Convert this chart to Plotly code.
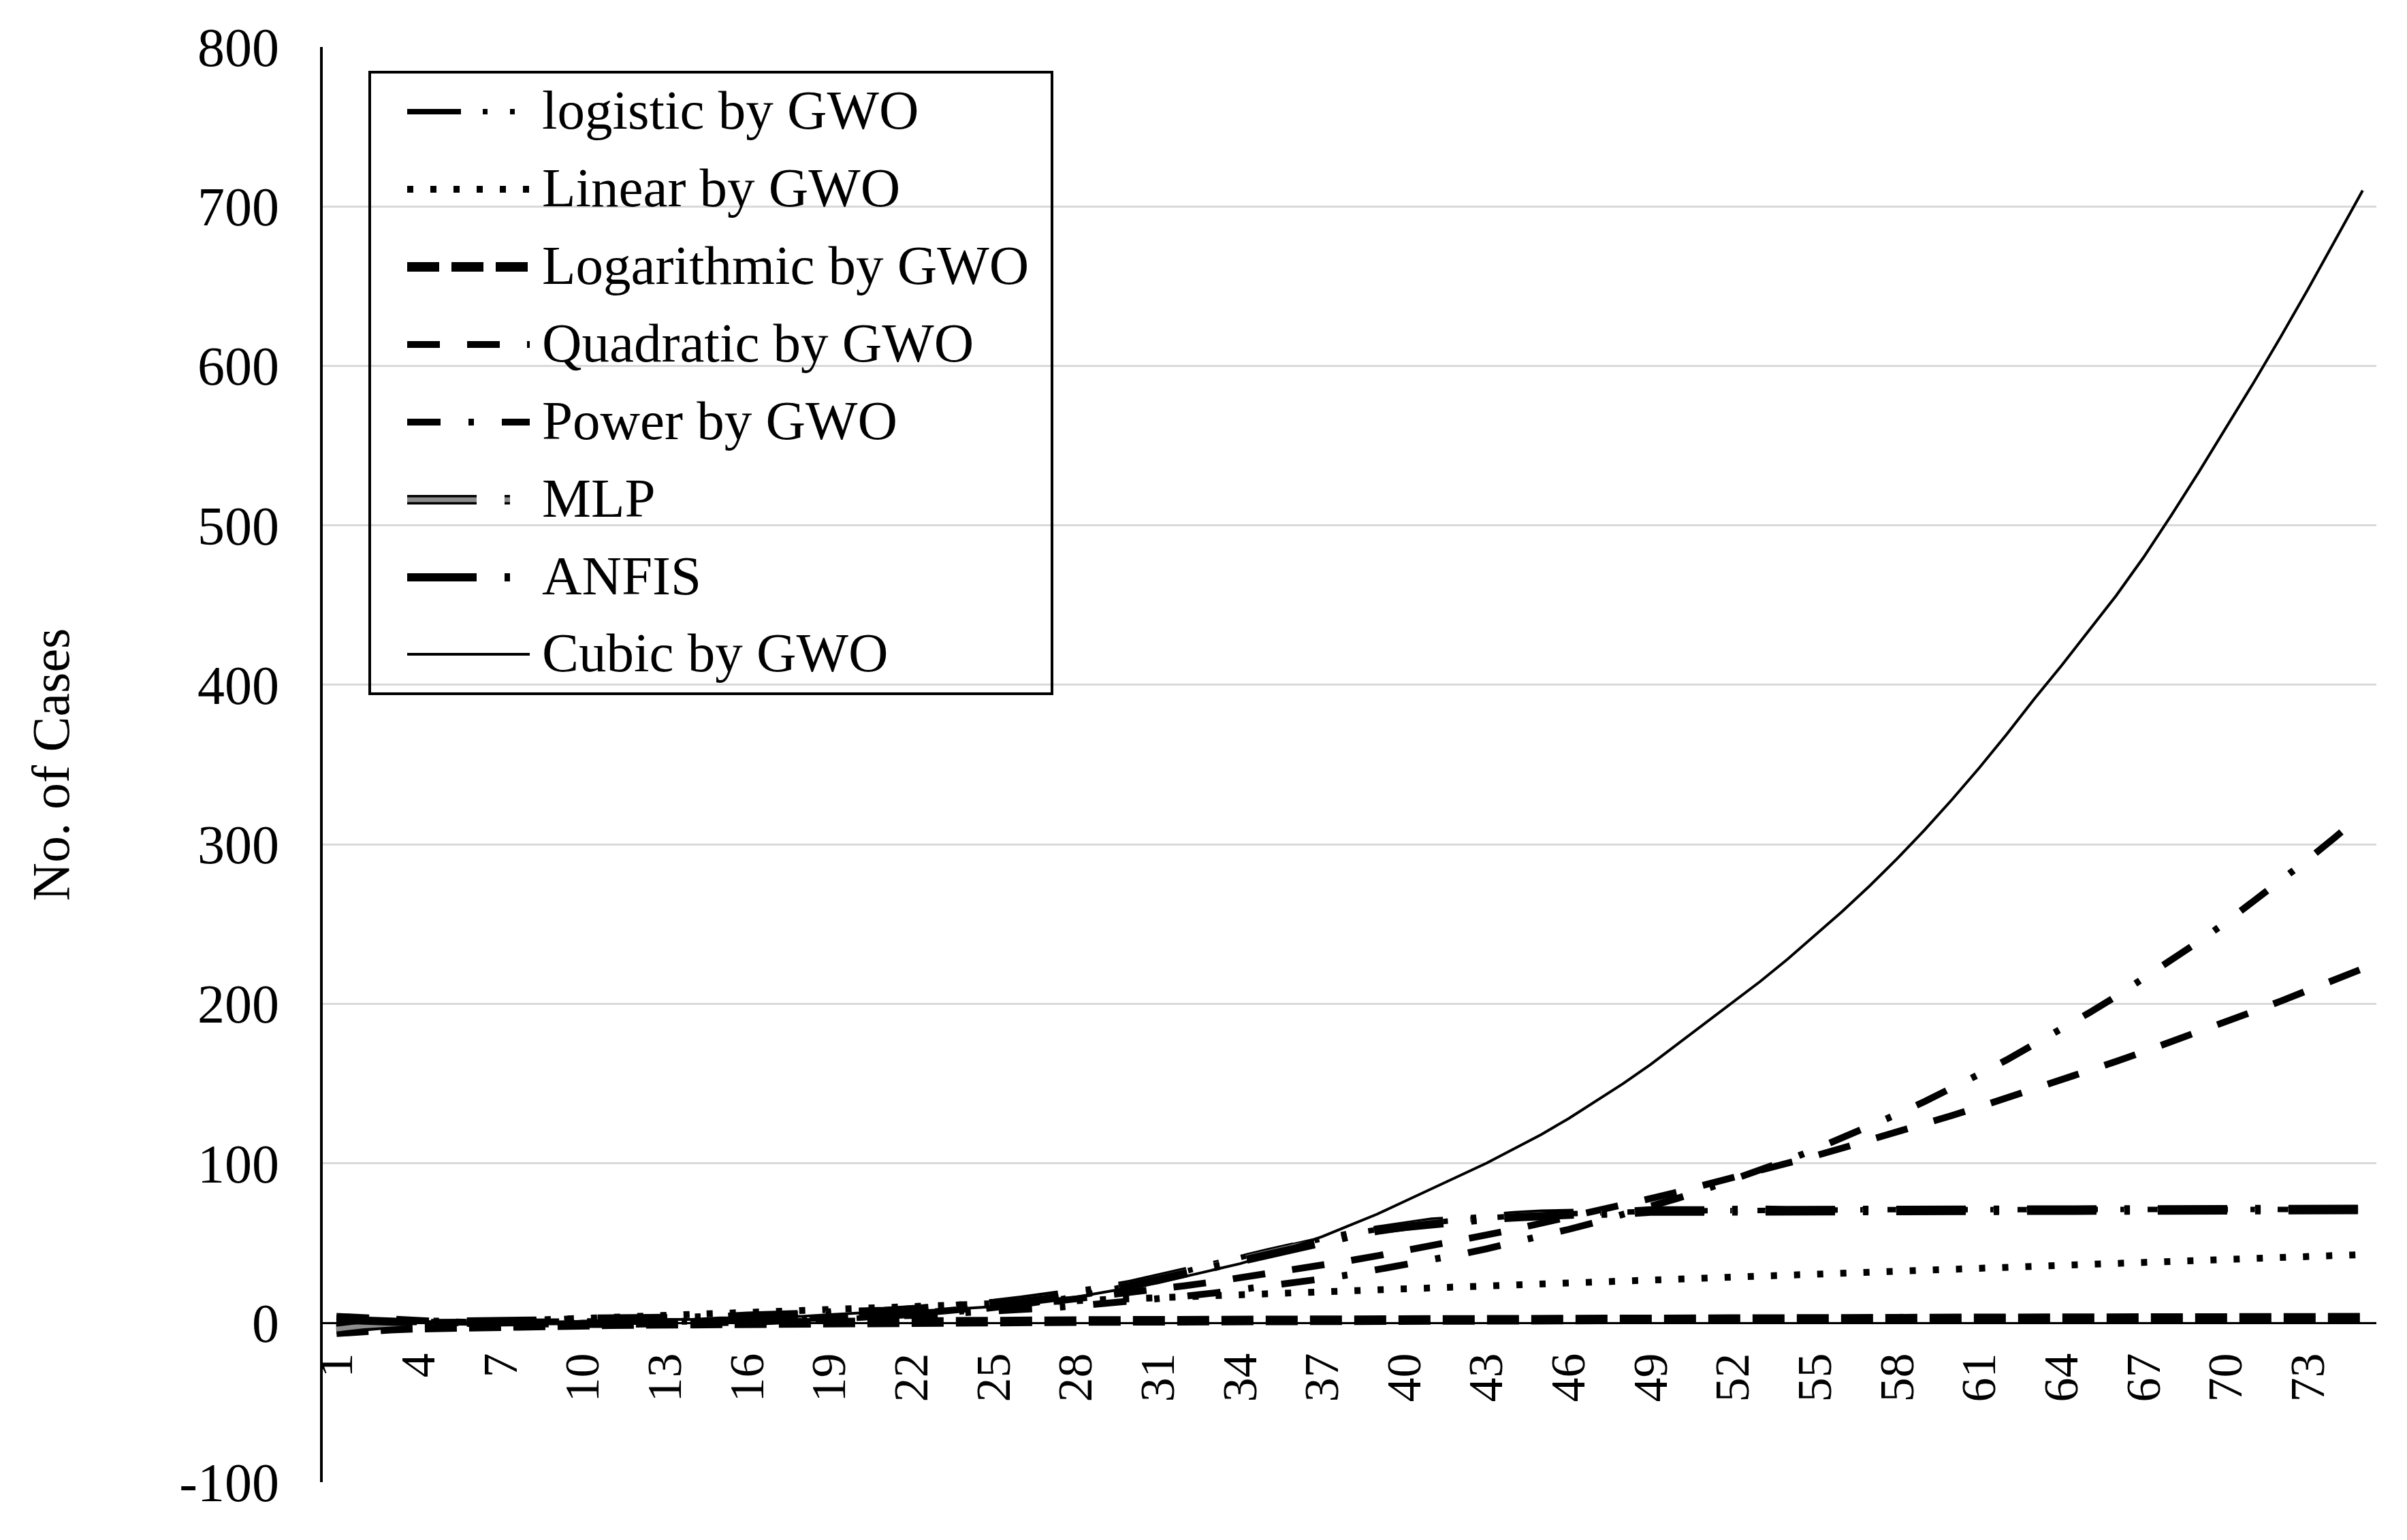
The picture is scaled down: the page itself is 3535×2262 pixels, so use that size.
import plotly.graph_objects as go

# ---------------- data ----------------
days = list(range(1, 76))
x_tick_vals = [1, 4, 7, 10, 13, 16, 19, 22, 25, 28, 31, 34, 37, 40, 43, 46, 49, 52, 55, 58, 61, 64, 67, 70, 73]
x_tick_text = ["1", "4", "7", "10", "13", "16", "19", "22", "25", "28", "31", "34", "37", "40", "43",
               "46", "49", "52", "55", "58", "61", "64", "67", "70", "73"]
y_tick_vals = [-100, 0, 100, 200, 300, 400, 500, 600, 700, 800]
y_tick_text = ["-100", "0", "100", "200", "300", "400", "500", "600", "700", "800"]

series_names = ["logistic by GWO", "Linear by GWO", "Logarithmic by GWO", "Quadratic by GWO",
                "Power by GWO", "MLP", "ANFIS", "Cubic by GWO"]

logistic_gwo = [0.0, 0.0, 0.0, 0.1, 0.1, 0.1, 0.1, 0.1, 0.2, 0.2,
                0.3, 0.4, 0.5, 0.6, 0.8, 1.1, 1.3, 1.7, 2.2, 2.8,
                3.5, 4.5, 5.6, 7.1, 8.8, 11.0, 13.5, 16.4, 19.8, 23.6,
                27.7, 32.0, 36.4, 40.8, 45.0, 49.0, 52.6, 55.8, 58.6, 60.9,
                62.9, 64.5, 65.9, 66.9, 67.8, 68.5, 69.0, 69.4, 69.8, 70.1,
                70.3, 70.4, 70.6, 70.7, 70.7, 70.8, 70.8, 70.9, 70.9, 70.9,
                70.9, 70.9, 71.0, 71.0, 71.0, 71.0, 71.0, 71.0, 71.0, 71.0,
                71.0, 71.0, 71.0, 71.0, 71.0]

linear_gwo = [-2.8, -2.2, -1.6, -0.9, -0.3, 0.3, 0.9, 1.5, 2.1, 2.8,
              3.4, 4.0, 4.6, 5.2, 5.8, 6.4, 7.1, 7.7, 8.3, 8.9,
              9.5, 10.1, 10.7, 11.4, 12.0, 12.6, 13.2, 13.8, 14.4, 15.1,
              15.7, 16.3, 16.9, 17.5, 18.1, 18.7, 19.4, 20.0, 20.6, 21.2,
              21.8, 22.4, 23.0, 23.7, 24.3, 24.9, 25.5, 26.1, 26.7, 27.4,
              28.0, 28.6, 29.2, 29.8, 30.4, 31.0, 31.7, 32.3, 32.9, 33.5,
              34.1, 34.7, 35.3, 36.0, 36.6, 37.2, 37.8, 38.4, 39.0, 39.7,
              40.3, 40.9, 41.5, 42.1, 42.7]

logarithmic_gwo = [-6.0, -4.5, -3.7, -3.1, -2.6, -2.2, -1.9, -1.6, -1.4, -1.2,
                   -1.0, -0.8, -0.6, -0.5, -0.3, -0.2, -0.1, 0.1, 0.2, 0.3,
                   0.4, 0.5, 0.6, 0.7, 0.8, 0.8, 0.9, 1.0, 1.1, 1.1,
                   1.2, 1.3, 1.3, 1.4, 1.5, 1.5, 1.6, 1.6, 1.7, 1.7,
                   1.8, 1.8, 1.9, 1.9, 2.0, 2.0, 2.1, 2.1, 2.2, 2.2,
                   2.3, 2.3, 2.3, 2.4, 2.4, 2.5, 2.5, 2.5, 2.6, 2.6,
                   2.6, 2.7, 2.7, 2.7, 2.8, 2.8, 2.8, 2.9, 2.9, 2.9,
                   3.0, 3.0, 3.0, 3.0, 3.1]

quadratic_gwo = [4.0, 3.0, 2.1, 1.3, 0.6, 0.1, -0.4, -0.8, -1.0, -1.2,
                 -1.2, -1.1, -0.9, -0.6, -0.2, 0.3, 0.9, 1.6, 2.5, 3.4,
                 4.5, 5.6, 6.9, 8.3, 9.8, 11.3, 13.0, 14.9, 16.8, 18.8,
                 20.9, 23.2, 25.5, 28.0, 30.5, 33.2, 36.0, 38.9, 41.9, 45.0,
                 48.2, 51.5, 55.0, 58.5, 62.2, 65.9, 69.8, 73.8, 77.9, 82.0,
                 86.3, 90.8, 95.3, 99.9, 104.6, 109.5, 114.4, 119.5, 124.6, 129.9,
                 135.3, 140.8, 146.4, 152.1, 157.9, 163.8, 169.9, 176.0, 182.2, 188.6,
                 195.1, 201.6, 208.3, 215.1, 222.0]

power_gwo = [0.0, 0.0, 0.0, 0.0, 0.0, 0.0, 0.1, 0.1, 0.2, 0.3,
             0.4, 0.6, 0.7, 0.9, 1.2, 1.5, 1.8, 2.3, 2.7, 3.3,
             3.9, 4.5, 5.3, 6.1, 7.1, 8.1, 9.2, 10.5, 11.8, 13.3,
             14.9, 16.6, 18.5, 20.5, 22.7, 25.0, 27.5, 30.1, 33.0, 36.0,
             39.2, 42.7, 46.3, 50.1, 54.2, 58.5, 63.0, 67.8, 72.8, 78.1,
             83.7, 89.5, 95.6, 102.0, 108.7, 115.8, 123.1, 130.7, 138.7, 147.0,
             155.8, 164.8, 174.2, 184.0, 194.2, 204.7, 215.7, 227.1, 238.8, 251.0,
             263.8, 276.9, 290.5, 304.5, 319.0]

mlp = [-4, -2, -1, 0, 0, 1, 1, 1, 1, 2,
       2, 2, 3, 3, 3, 4, 4, 5, 6, 6,
       7, 8, 9, 10, 12, 14, 16, 18, 21, 24,
       28, 32, 36, 40, 44, 48, 52, 55, 58, 61,
       63, 64, 66, 67, 68, 68, 69, 69, 70, 70,
       70, 70, 70.5, 70.5, 70, 70, 70.5, 70.5, 70, 70,
       70.5, 70.5, 70.5, 70, 70, 70.5, 70.5, 70.5, 70.5, 70,
       70.5, 70.5, 70.5, 71, 71]

anfis = [2, 1, 1, 0, 0, 0, 1, 1, 1, 1,
         2, 2, 2, 3, 3, 4, 4, 5, 5, 6,
         7, 8, 9, 10, 11, 13, 15, 17, 20, 23,
         27, 31, 35, 39, 43, 47, 51, 55, 58, 60,
         62, 64, 65, 66, 67, 67, 68, 69, 70, 70,
         70.5, 70.5, 71, 70.5, 70.5, 70, 70.5, 71, 71, 70.5,
         70.5, 71, 71, 70.5, 70.5, 71, 71, 71, 70.5, 70.5,
         71, 71, 71, 71, 71]

cubic_gwo = [3, 2, 1, 1, 0, 0, 0, 0, 0, 1,
             1, 1, 2, 2, 3, 3, 4, 4, 5, 6,
             6, 7, 8, 9, 10, 12, 14, 16, 19, 22,
             25, 29, 33, 37, 42, 48, 54, 61, 68, 76,
             84, 92, 100, 109, 118, 128, 139, 150, 162, 175,
             188, 201, 214, 228, 243, 258, 274, 291, 309, 328,
             348, 369, 391, 412, 434, 456, 480, 506, 533, 561,
             589, 618, 648, 679, 710]

all_series = [logistic_gwo, linear_gwo, logarithmic_gwo, quadratic_gwo,
              power_gwo, mlp, anfis, cubic_gwo]

# ---------------- styles ----------------
FONT = "Liberation Serif, Times New Roman, serif"
styles = [
    [dict(color="black", width=8, dash="79px,32px,7px,33px,7px,33px")],
    [dict(color="black", width=10, dash="9px,25px")],
    [dict(color="black", width=14, dash="47px,18px")],
    [dict(color="black", width=10, dash="48px,40px")],
    [dict(color="black", width=10, dash="49px,41px,8px,41px")],
    [dict(color="black", width=14, dash="102px,41px,8px,41px"),
     dict(color="#8c8c8c", width=7, dash="102px,41px,8px,41px")],
    [dict(color="black", width=12, dash="102px,41px,8px,41px")],
    [dict(color="black", width=4, dash="solid")],
]

W, H = 3535, 2262
# page body adds ~8px offset, compensate in the margins
ML, MR, MT, MB = 466, 53, 61, 93

# reference-pixel helpers (plot area: x 474..3490, y 72..2180)
RX0, RW = 474, 3016
RY1, RH = 2180, 2108


def pxx(p):
    return (p - RX0) / RW


def pxy(p):
    return (RY1 - p) / RH


fig = go.Figure()
for name, vals, sty in zip(series_names, all_series, styles):
    for k, ln in enumerate(sty):
        fig.add_trace(go.Scatter(x=days, y=vals, mode="lines", name=name,
                                 line=ln, showlegend=False))

# ---------------- custom legend (long line samples like the original) ----------------
shapes = []
annotations = []
legend_rows = [167, 281, 395, 509, 623, 737, 851, 964]
for name, sty, ry in zip(series_names, styles, legend_rows):
    for ln in sty:
        shapes.append(dict(type="line", xref="paper", yref="paper",
                           x0=pxx(598), x1=pxx(778), y0=pxy(ry), y1=pxy(ry), line=ln))
    annotations.append(dict(text=name, xref="paper", yref="paper", x=pxx(794), y=pxy(ry - 2),
                            xanchor="left", yanchor="middle", showarrow=False,
                            font=dict(family=FONT, size=81, color="black")))
shapes.append(dict(type="rect", xref="paper", yref="paper",
                   x0=pxx(543), x1=pxx(1545), y0=pxy(1022), y1=pxy(109),
                   line=dict(color="black", width=4), fillcolor="rgba(0,0,0,0)"))

fig.update_layout(
    width=W, height=H,
    margin=dict(l=ML, r=MR, t=MT, b=MB),
    paper_bgcolor="white", plot_bgcolor="white",
    showlegend=False,
    shapes=shapes, annotations=annotations,
    font=dict(family=FONT, color="black"),
    xaxis=dict(range=[0.5, 75.5], tickmode="array", tickvals=x_tick_vals, ticktext=x_tick_text,
               tickangle=-90, tickfont=dict(family=FONT, size=72, color="black"),
               showgrid=False, zeroline=False, showline=True, linecolor="black", linewidth=3,
               anchor="free", position=100 / 900, ticks="", ticklabelstandoff=14),
    yaxis=dict(range=[-100, 800], tickmode="array", tickvals=y_tick_vals, ticktext=y_tick_text,
               tickfont=dict(family=FONT, size=80, color="black"),
               showgrid=True, gridcolor="#d9d9d9", gridwidth=3, zeroline=False,
               showline=True, linecolor="black", linewidth=4, ticks="", ticklabelstandoff=44,
               title=dict(text="No. of Cases", font=dict(family=FONT, size=78, color="black"),
                          standoff=137)),
)

fig.write_html("out.html")
